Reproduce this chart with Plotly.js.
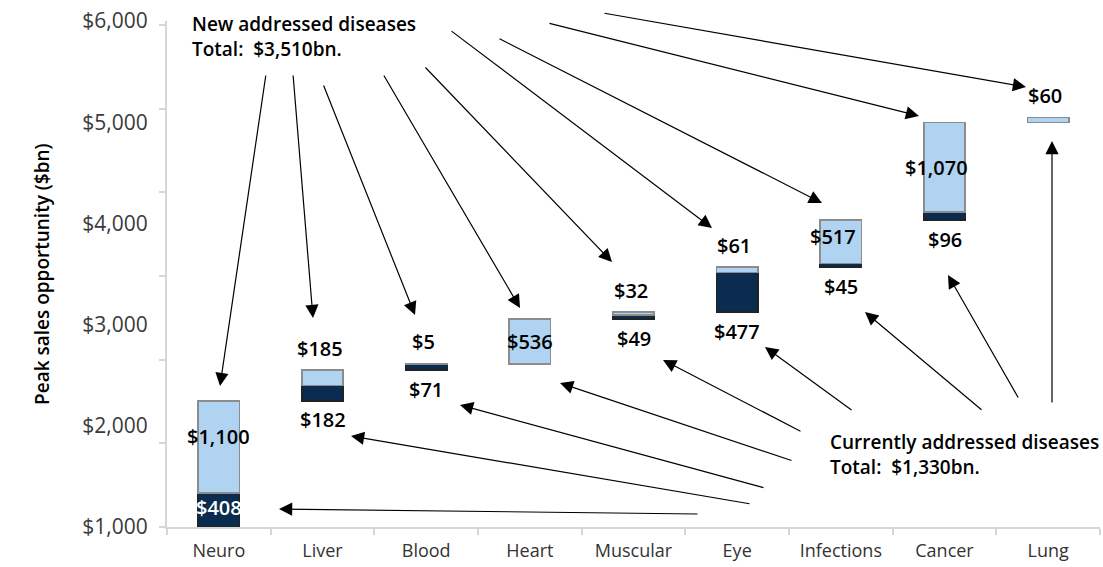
<!DOCTYPE html>
<html>
<head>
<meta charset="utf-8">
<script src="https://cdn.plot.ly/plotly-3.0.1.min.js"></script>
<style>
  html, body { margin: 0; padding: 0; background: #ffffff; }
  #chart { width: 1103px; height: 567px; }
</style>
</head>
<body>
<div id="chart"></div>
<script>
// ---------- data ----------
const categories = ['Neuro', 'Liver', 'Blood', 'Heart', 'Muscular', 'Eye', 'Infections', 'Cancer', 'Lung'];
const currentValues = [408, 182, 71, 0, 49, 477, 45, 96, 0];      // currently addressed ($bn)
const newValues = [1100, 185, 5, 536, 32, 61, 517, 1070, 60];      // new addressed ($bn)
const yTickLabelValues = [1000, 2000, 3000, 4000, 5000, 6000];     // printed axis labels
const newTotalText = 'New addressed diseases<br>Total:\u00a0 $3,510bn.';
const currentTotalText = 'Currently addressed diseases<br>Total:\u00a0 $1,330bn.';
const yTitle = 'Peak sales opportunity ($bn)';

// ---------- label placement (style) ----------
const newLabelPlace = ['inside', 'above', 'above', 'inside', 'above', 'above', 'inside', 'inside', 'above'];
const curLabelPlace = ['inside', 'below', 'below', null, 'below', 'below', 'below', 'below', null];

// ---------- geometry of plot area (px) ----------
const W = 1103, H = 567;
const M = { l: 167, r: 3, t: 21, b: 40 };
const PW = W - M.l - M.r, PH = H - M.t - M.b;
const px2x = px => (px - M.l) / PW;
const py2y = py => (H - M.b - py) / PH;

// waterfall bases
const bases = [];
let run = 0;
for (let i = 0; i < categories.length; i++) {
  bases.push(run);
  run += currentValues[i] + newValues[i];
}
const fmt = v => '$' + v.toLocaleString('en-US');

const DARK = '#0b2c51';
const LIGHT = '#afd3f1';
const FAM = 'Open Sans, sans-serif';

const traces = [
  {
    type: 'bar', x: categories, y: bases,
    marker: { color: 'rgba(0,0,0,0)' }, hoverinfo: 'skip', showlegend: false
  },
  {
    type: 'bar', x: categories, y: currentValues.map(v => v === 0 ? null : v),
    marker: { color: DARK, line: { color: '#222222', width: 1.5 } },
    name: 'Currently addressed', showlegend: false
  },
  {
    type: 'bar', x: categories, y: newValues,
    marker: { color: LIGHT, line: { color: '#8c8c8c', width: 1.5 } },
    name: 'New addressed', showlegend: false
  },
  {
    type: 'scatter', mode: 'markers', x: categories, y: categories.map(() => null),
    yaxis: 'y2', hoverinfo: 'skip', showlegend: false
  }
];

const annotations = [];
const LABEL_FONT = { family: FAM, size: 20, color: '#000000', weight: 600 };

categories.forEach((c, i) => {
  const b = bases[i], cv = currentValues[i], nv = newValues[i];
  if (newLabelPlace[i] === 'inside') {
    annotations.push({ x: c, y: b + cv + nv / 2, xref: 'x', yref: 'y', text: fmt(nv), showarrow: false,
      font: LABEL_FONT, yshift: (i === 0 ? 10 : (i === 6 ? 5 : 0)), xshift: (i === 6 || i === 7 ? -8 : 0) });
  } else if (newLabelPlace[i] === 'above') {
    annotations.push({ x: c, y: b + cv + nv, xref: 'x', yref: 'y', text: fmt(nv), showarrow: false,
      font: LABEL_FONT, yanchor: 'middle', yshift: 22, xshift: -3 });
  }
  if (curLabelPlace[i] === 'inside') {
    annotations.push({ x: c, y: b + cv / 2, xref: 'x', yref: 'y', text: fmt(cv), showarrow: false,
      font: Object.assign({}, LABEL_FONT, { color: '#ffffff' }), yshift: 2 });
  } else if (curLabelPlace[i] === 'below') {
    annotations.push({ x: c, y: b, xref: 'x', yref: 'y', text: fmt(cv), showarrow: false,
      font: LABEL_FONT, yanchor: 'middle', yshift: -19 });
  }
});

// group captions
const CAP_FONT = { family: FAM, size: 19, color: '#000', weight: 600 };
annotations.push({ xref: 'paper', yref: 'paper', x: px2x(190), y: py2y(9), xanchor: 'left', yanchor: 'top',
  align: 'left', text: newTotalText, showarrow: false, font: CAP_FONT });
annotations.push({ xref: 'paper', yref: 'paper', x: px2x(828), y: py2y(427), xanchor: 'left', yanchor: 'top',
  align: 'left', text: currentTotalText, showarrow: false, font: CAP_FONT });

// y title
annotations.push({ xref: 'paper', yref: 'paper', x: px2x(27), y: 0.5, textangle: -90, text: yTitle, showarrow: false,
  font: { family: FAM, size: 19, color: '#000', weight: 600 } });

// pointer arrows (tail px -> head px)
const newArrows = [
  [266, 74, 220, 386], [293, 74, 313, 318], [323, 84, 415, 315], [383, 74, 520, 308],
  [424, 66, 612, 262], [450, 30, 712, 228], [498, 38, 822, 203], [548, 23, 919, 116], [603, 13, 1026, 87]
];
const curArrows = [
  [699, 514, 279, 509], [751, 504, 351, 436], [765, 488, 460, 405], [793, 461, 560, 383],
  [802, 432, 663, 360], [853, 411, 765, 347], [983, 411, 865, 312], [1019, 399, 948, 275], [1052, 404, 1052, 141]
];
newArrows.concat(curArrows).forEach(([tx, ty, hx, hy]) => {
  annotations.push({
    xref: 'paper', yref: 'paper', x: px2x(hx), y: py2y(hy), ax: tx - hx, ay: ty - hy,
    axref: 'pixel', ayref: 'pixel', text: '', showarrow: true,
    arrowhead: 2, arrowsize: 2.2, arrowwidth: 1.2, arrowcolor: '#000000', standoff: 0
  });
});

const layout = {
  width: W, height: H,
  margin: M,
  paper_bgcolor: '#ffffff', plot_bgcolor: '#ffffff',
  barmode: 'stack', bargap: 0.6,
  showlegend: false,
  font: { family: FAM, color: '#333' },
  xaxis: {
    type: 'category', range: [-0.5, 8.5],
    showline: true, linecolor: '#d6d6d6', linewidth: 2,
    ticks: 'outside', tickson: 'boundaries', ticklen: 6, tickcolor: '#d6d6d6', tickwidth: 2,
    ticklabelstandoff: 6,
    tickfont: { family: FAM, size: 18, color: '#333' },
    showgrid: false, zeroline: false
  },
  yaxis: {
    range: [0, 6050], dtick: 1000, tick0: 0,
    showline: true, linecolor: '#d6d6d6', linewidth: 2,
    ticks: 'outside', ticklen: 6, tickcolor: '#d6d6d6', tickwidth: 2,
    showticklabels: false, showgrid: false, zeroline: false
  },
  yaxis2: {
    overlaying: 'y', side: 'left', range: [1000, 6000],
    tickmode: 'array', tickvals: yTickLabelValues, ticktext: yTickLabelValues.map(fmt),
    ticks: 'outside', ticklen: 14, tickcolor: 'rgba(0,0,0,0)',
    tickfont: { family: FAM, size: 21, color: '#3a3a3a' },
    showline: false, showgrid: false, zeroline: false
  },
  annotations: annotations
};

Plotly.newPlot('chart', traces, layout, { displayModeBar: false, staticPlot: true });
</script>
</body>
</html>
